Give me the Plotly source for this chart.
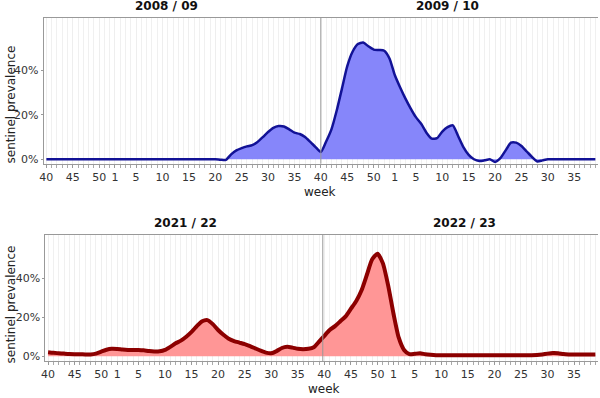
import plotly.graph_objects as go

# ---------------- data ----------------
# Season week numbers (ISO weeks; 2009 has 53 weeks)
weeks_0809 = list(range(40, 53)) + list(range(1, 40))
weeks_0910 = list(range(40, 54)) + list(range(1, 40))
weeks_2122 = list(range(40, 53)) + list(range(1, 40))
weeks_2223 = list(range(40, 53)) + list(range(1, 40))

# sentinel prevalence (%) per week
prev_0809 = ([0.0] * 13 + [0.0] * 19 +
             [0.0, -0.2, -0.3, 2.2, 4.0, 5.0, 5.8, 6.4, 7.8, 10.0,
              12.3, 14.2, 15.0, 14.8, 13.5, 12.0, 11.4, 10.0, 7.8, 5.5])
prev_0910 = ([3.3, 8.0, 13.5, 22.0, 32.0, 42.0, 48.5, 52.0, 52.7, 51.0, 49.5, 49.3, 49.0, 45.5] +
             [38.0, 32.5, 27.5, 23.0, 19.0, 16.0, 12.0, 9.3, 9.5, 12.5,
              14.5, 15.3, 10.5, 5.5, 2.0, 0.0, -0.8, -0.5, 0.0, -1.2,
              0.5, 4.0, 7.5, 7.5, 6.0, 3.5, 1.0, -1.0, -0.5] + [0.0] * 10)
prev_2122 = ([2.0, 1.7, 1.5, 1.3, 1.1, 1.0, 1.0, 0.9, 0.9, 1.3, 2.3, 3.3, 3.8] +
             [3.7, 3.4, 3.2, 3.2, 3.2, 3.0, 2.6, 2.4, 2.5, 3.2,
              4.8, 6.6, 8.0, 10.0, 12.5, 15.5, 18.0, 18.6, 16.5, 13.5,
              11.0, 9.0, 7.8, 7.0, 6.2, 5.2, 4.0, 2.8, 1.8, 1.5,
              2.6, 4.2, 4.8, 4.4, 3.8, 3.6, 3.8, 4.6, 7.5])
prev_2223 = ([10.5, 13.5, 15.5, 18.0, 20.5, 24.5, 28.5, 34.0, 42.0, 50.0, 52.8, 48.0, 36.5] +
             [22.0, 9.5, 3.2, 1.0, 1.2, 1.5, 1.0, 0.7, 0.5] + [0.5] * 18 +
             [0.6, 0.9, 1.3, 1.6, 1.5, 1.1, 0.9] + [0.8] * 5)

season_titles_top = ["2008 / 09", "2009 / 10"]
season_titles_bottom = ["2021 / 22", "2022 / 23"]
label_weeks = [40, 45, 50, 1, 5, 10, 15, 20, 25, 30, 35]
y_ticks = [0, 20, 40]
y_ticktext = ["0%", "20%", "40%"]

# ---------------- build ----------------
W, H = 600, 398
def px(x):
    return x / W
def py(y):
    return 1 - y / H

top_weeks = weeks_0809 + weeks_0910
top_vals = prev_0809 + prev_0910
bot_weeks = weeks_2122 + weeks_2223
bot_vals = prev_2122 + prev_2223
top_idx = list(range(len(top_weeks)))
bot_idx = list(range(len(bot_weeks)))

def ticks(weeks):
    tv = [i for i, w in enumerate(weeks) if w in label_weeks]
    tt = [str(weeks[i]) for i in tv]
    return tv, tt

top_tv, top_tt = ticks(top_weeks)
bot_tv, bot_tt = ticks(bot_weeks)

fig = go.Figure()
fig.add_trace(go.Scatter(
    x=top_idx, y=top_vals, mode="lines", fill="tozeroy",
    fillcolor="rgb(134,134,250)",
    line=dict(color="rgb(18,18,150)", width=2.5, shape="spline", smoothing=0.6),
    xaxis="x", yaxis="y", showlegend=False))
fig.add_trace(go.Scatter(
    x=bot_idx, y=bot_vals, mode="lines", fill="tozeroy",
    fillcolor="rgb(255,150,150)",
    line=dict(color="rgb(140,0,0)", width=4, shape="spline", smoothing=0.6),
    xaxis="x2", yaxis="y2", showlegend=False))

tickfont = dict(family="DejaVu Sans", size=11, color="#333333")

def xaxis_cfg(domain, tv, tt, n, anchor):
    return dict(
        domain=domain, anchor=anchor, range=[-0.5, n - 0.5],
        tickmode="array", tickvals=tv, ticktext=tt, tickfont=tickfont,
        ticks="outside", ticklen=3, tickcolor="#999999",
        showgrid=True, gridcolor="#eeeeee", gridwidth=1,
        minor=dict(dtick=1, tick0=0, ticks="outside", ticklen=3, tickcolor="#aaaaaa",
                   showgrid=True, gridcolor="#f0f0f0", gridwidth=1),
        showline=True, linecolor="#999999", linewidth=1, mirror=True,
        zeroline=False, fixedrange=True)

def yaxis_cfg(domain, rng, anchor):
    return dict(
        domain=domain, anchor=anchor, range=rng,
        tickmode="array", tickvals=y_ticks, ticktext=y_ticktext, tickfont=tickfont,
        ticks="outside", ticklen=2, tickcolor="#999999",
        showgrid=False, showline=True, linecolor="#999999", linewidth=1,
        zeroline=False, fixedrange=True)

fig.update_layout(
    width=W, height=H, autosize=False,
    margin=dict(l=0, r=0, t=0, b=0),
    paper_bgcolor="white", plot_bgcolor="white",
    xaxis=xaxis_cfg([px(40), px(598)], top_tv, top_tt, len(top_idx), "y"),
    yaxis=yaxis_cfg([py(164.5), py(18)], [-2.0, 63.8], "x"),
    xaxis2=xaxis_cfg([px(41.7), px(598)], bot_tv, bot_tt, len(bot_idx), "y2"),
    yaxis2=yaxis_cfg([py(363), py(236)], [-2.6, 62.6], "x2"),
)

# season dividers
fig.add_shape(type="line", xref="x", yref="y domain", x0=52, x1=52, y0=0, y1=1,
              line=dict(color="#999999", width=1))
fig.add_shape(type="line", xref="x2", yref="y2 domain", x0=51.7, x1=51.7, y0=0, y1=1,
              line=dict(color="#999999", width=1))

title_font = dict(family="DejaVu Sans", size=12, color="#111111")
label_font = dict(family="DejaVu Sans", size=12, color="#222222")
ann = []
for t, x, y in [(season_titles_top[0], 164, 6), (season_titles_top[1], 446, 6),
                (season_titles_bottom[0], 183, 224), (season_titles_bottom[1], 464, 224)]:
    ann.append(dict(text="<b>%s</b>" % t, x=px(x), y=py(y), xref="paper", yref="paper",
                    showarrow=False, xanchor="center", yanchor="middle", font=title_font))
for x, y in [(318, 193), (322, 391)]:
    ann.append(dict(text="week", x=px(x), y=py(y), xref="paper", yref="paper",
                    showarrow=False, xanchor="center", yanchor="middle", font=label_font))
for y in [105, 306]:
    ann.append(dict(text="sentinel prevalence", x=px(8), y=py(y), xref="paper", yref="paper",
                    showarrow=False, xanchor="center", yanchor="middle", textangle=-90,
                    font=label_font))
fig.update_layout(annotations=ann)

fig.write_html("out.html", config={"displayModeBar": False},
               post_script="document.body.style.margin='0px';")
